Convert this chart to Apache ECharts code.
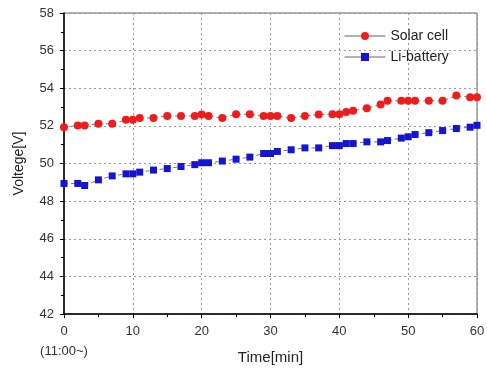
<!DOCTYPE html>
<html><head><meta charset="utf-8">
<script src="https://cdn.jsdelivr.net/npm/echarts@6/dist/echarts.min.js"></script>
<style>html,body{margin:0;padding:0;background:#fff}#c{width:487px;height:372px}</style>
</head><body><div id="c"></div>
<script>
const times = [0,2,3,5,7,9,10,11,13,15,17,19,20,21,23,25,27,29,30,31,33,35,37,39,40,41,42,44,46,47,49,50,51,53,55,57,59,60];
const solarCell = [51.93,52.02,52.02,52.11,52.11,52.32,52.32,52.42,52.42,52.53,52.53,52.53,52.6,52.53,52.42,52.62,52.62,52.53,52.53,52.53,52.42,52.53,52.6,52.62,52.62,52.74,52.81,52.94,53.13,53.33,53.33,53.33,53.33,53.33,53.33,53.61,53.52,53.52];
const liBattery = [48.94,48.94,48.83,49.13,49.34,49.45,49.45,49.54,49.65,49.73,49.84,49.94,50.04,50.04,50.13,50.23,50.34,50.53,50.53,50.64,50.73,50.83,50.83,50.95,50.95,51.06,51.06,51.15,51.15,51.22,51.35,51.42,51.54,51.64,51.75,51.86,51.93,52.03];
const xTicks = [0,10,20,30,40,50,60];
const yTicks = [42,44,46,48,50,52,54,56,58];
const seriesNames = ['Solar cell','Li-battery'];

const font = 'Arial, "Liberation Sans", sans-serif';
const chart = echarts.init(document.getElementById('c'));
const pair = (arr) => times.map((t,i)=>[t,arr[i]]);
chart.setOption({
  animation:false,
  textStyle:{fontFamily:font},
  grid:{left:64,right:10,top:13,bottom:58,show:true,borderColor:'#666',borderWidth:1,
        containLabel:false,outerBoundsMode:'none'},
  legend:{
    orient:'vertical', left:339, top:24, itemWidth:41, itemHeight:10, itemGap:7,
    textStyle:{fontSize:14,color:'#222',fontFamily:font},
    lineStyle:{type:'solid',color:'#666',width:1},
    data:seriesNames
  },
  xAxis:{
    type:'value', min:xTicks[0], max:xTicks[xTicks.length-1], interval:10,
    name:'Time[min]', nameLocation:'middle', nameGap:36, nameMoveOverlap:false,
    nameTextStyle:{fontSize:15,color:'#222',fontFamily:font},
    axisLine:{lineStyle:{color:'#000',width:1.5}},
    axisTick:{length:4,lineStyle:{color:'#000'}},
    minorTick:{show:true,splitNumber:2,length:3,lineStyle:{color:'#000'}},
    axisLabel:{fontSize:13,color:'#333',margin:7,lineHeight:20,
      formatter:v=> v===0 ? '0\n(11:00~)' : String(v)},
    splitLine:{show:true,lineStyle:{type:[2,3],color:'#999'}}
  },
  yAxis:{
    type:'value', min:yTicks[0], max:yTicks[yTicks.length-1], interval:2,
    name:'Voltege[V]', nameLocation:'middle', nameGap:38, nameMoveOverlap:false,
    nameTextStyle:{fontSize:14,color:'#222',fontFamily:font},
    axisLine:{show:true,lineStyle:{color:'#000',width:1.5}},
    axisTick:{show:true,length:4,lineStyle:{color:'#000'}},
    minorTick:{show:true,splitNumber:2,length:3,lineStyle:{color:'#000'}},
    axisLabel:{fontSize:13,color:'#333',margin:10},
    splitLine:{show:true,lineStyle:{type:[2,3],color:'#999'}}
  },
  series:[
    {name:seriesNames[0],type:'line',data:pair(solarCell),symbol:'circle',symbolSize:8,
     itemStyle:{color:'#f01c1c'},lineStyle:{color:'#777',width:1,type:[4,3]},z:3},
    {name:seriesNames[1],type:'line',data:pair(liBattery),symbol:'rect',symbolSize:7,
     itemStyle:{color:'#1414d2'},lineStyle:{color:'#777',width:1,type:[4,3]},z:3}
  ]
});
</script></body></html>
